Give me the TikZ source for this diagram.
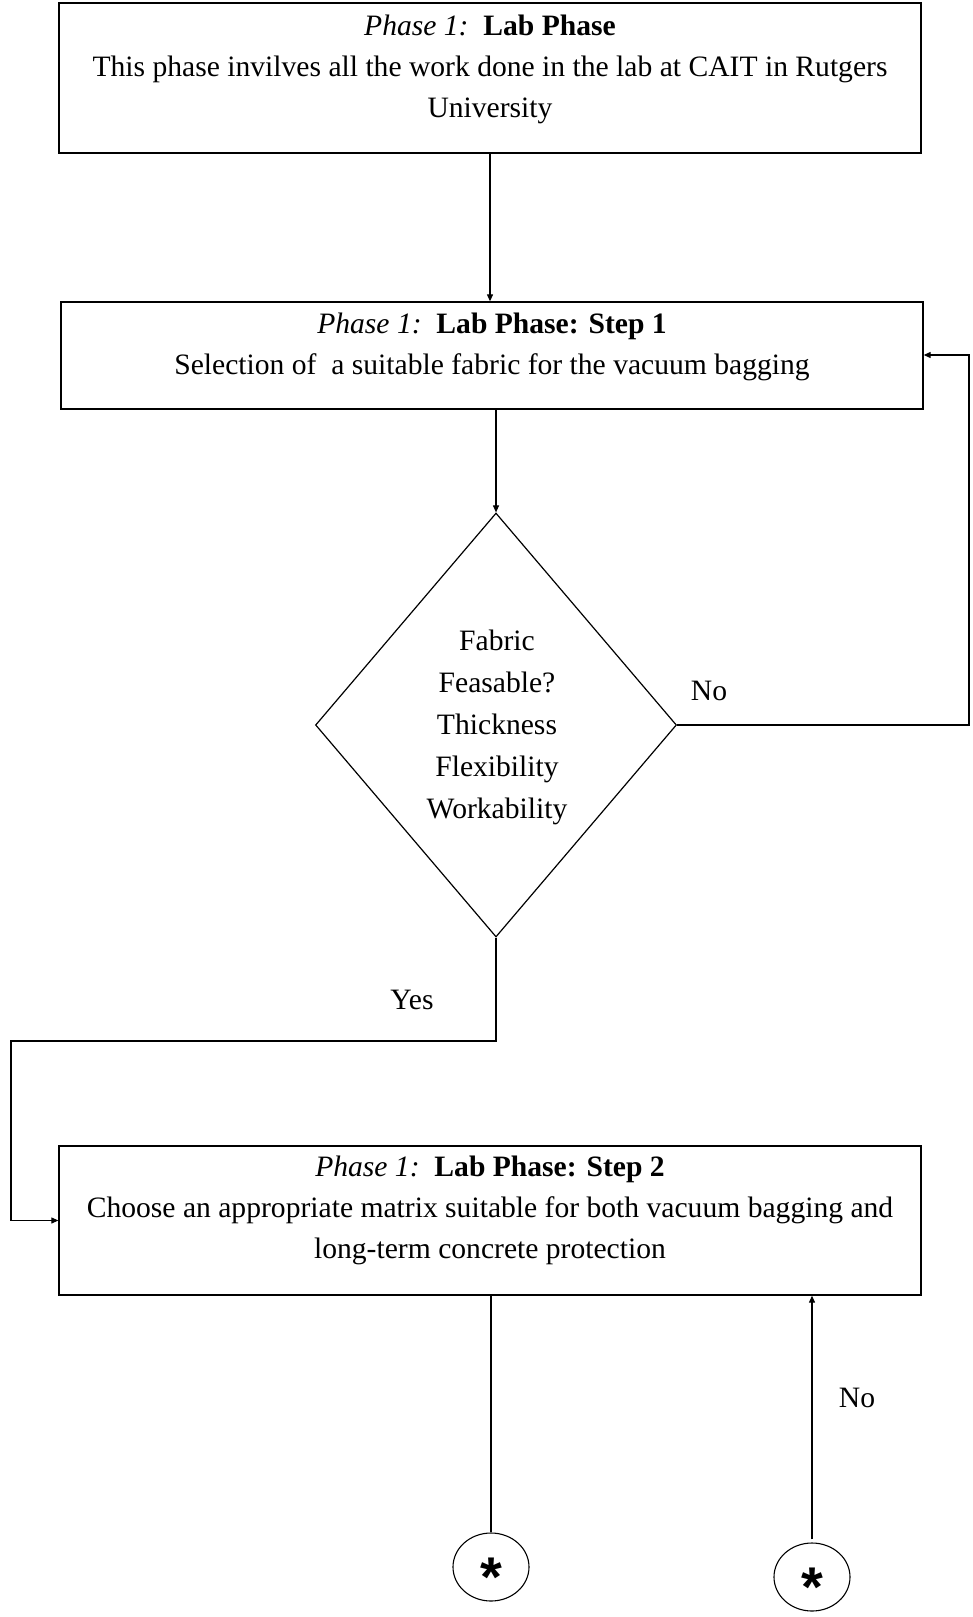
\documentclass[tikz,border=0pt]{standalone}
\usepackage{fontspec}
\setmainfont{Liberation Serif}
\newfontfamily\astfont{Liberation Sans}
\usetikzlibrary{shapes.geometric,arrows.meta,calc}
\begin{document}
\begin{tikzpicture}[x=1pt,y=-1pt,
  box/.style={draw, line width=1.3pt, inner sep=0pt, minimum width=862pt},
  btext/.style={align=center, font=\fontsize{29.6}{41}\selectfont, inner sep=0pt},
  dtext/.style={align=center, font=\fontsize{29.6}{42}\selectfont, inner sep=0pt},
  lbl/.style={font=\fontsize{29.6}{41}\selectfont, inner sep=0pt},
  conn/.style={line width=1.1pt},
  arr/.style={conn, -{Triangle[length=7pt,width=6pt]}},
  term/.style={ellipse, draw, line width=1.1pt, minimum width=76pt, minimum height=68pt, inner sep=0pt},
  ast/.style={font=\astfont\bfseries\fontsize{56}{56}\selectfont, inner sep=0pt}]
\useasboundingbox (0,0) rectangle (972,1617);
% boxes
\node[box, minimum height=150pt] (top) at (490,78) {};
\node[btext] (toptext) at (490,69) {\textit{Phase 1:}\ \ \textbf{Lab Phase}\\This phase invilves all the work done in the lab at CAIT in Rutgers\\University};
\node[box, minimum height=107pt] (s1) at (492,355.5) {};
\node[btext] (s1text) at (492,346.5) {\textit{Phase 1:}\ \ \textbf{Lab Phase: Step 1}\\Selection of\ \ a suitable fabric for the vacuum bagging};
\node[diamond, draw, line width=1.2pt, minimum width=361pt, minimum height=424pt, inner sep=0pt] (dec) at (496,725) {};
\node[dtext] (dectext) at (497,727) {Fabric\\Feasable?\\Thickness\\Flexibility\\Workability};
\node[box, minimum height=149pt] (s2) at (490,1220.5) {};
\node[btext] (s2text) at (490,1210) {\textit{Phase 1:}\ \ \textbf{Lab Phase: Step 2}\\Choose an appropriate matrix suitable for both vacuum bagging and\\long-term concrete protection};
% terminals
\node[term] (c1) at (491,1567) {};
\node[ast] (a1) at (491,1577) {*};
\node[term] (c2) at (812,1577) {};
\node[ast] (a2) at (812,1587) {*};
% labels
\node[lbl] (no1) at (709,691) {No};
\node[lbl] (yes) at (412,1000) {Yes};
\node[lbl] (no2) at (857,1398) {No};
% connectors
\draw[arr] (top.south) -- (top.south |- s1.north);
\draw[arr] (dec.north |- s1.south) -- (dec.north);
\coordinate (noturn) at (969,355);
\draw[arr] (dec.east) -| (noturn) -- (s1.east |- noturn);
\coordinate (yesB) at (11,1041);
\draw[arr] (dec.south) |- (yesB) |- (s2.west);
\draw[conn] (c1.north |- s2.south) -- (c1.north);
\draw[arr, shorten <=3pt] (c2.north) -- (c2.north |- s2.south);
\end{tikzpicture}
\end{document}
